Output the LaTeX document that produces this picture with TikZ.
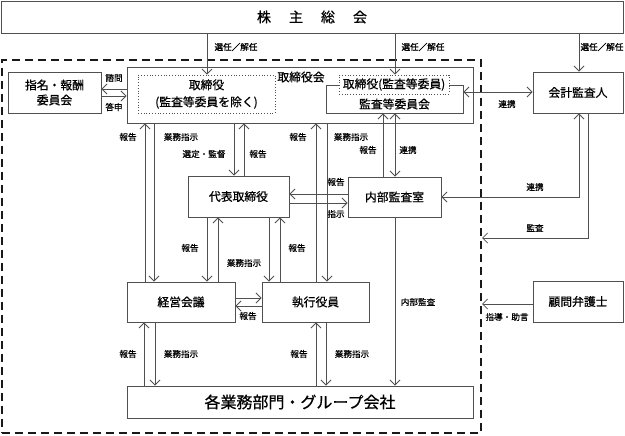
\documentclass[tikz,border=0pt]{standalone}
\usepackage{fontspec}
\setmainfont{Noto Sans CJK JP}[FakeBold=0.7]
\usetikzlibrary{arrows.meta}
\definecolor{lncol}{HTML}{505050}
\begin{document}
\begin{tikzpicture}[x=1pt,y=-1pt,
  box/.style={draw=lncol, line width=0.9pt, rectangle, inner sep=0pt, align=center,
    font=\fontsize{11.8}{15}\selectfont},
  dotbox/.style={draw=lncol, dotted, line width=0.8pt, rectangle, inner sep=0pt, fill=white, align=center,
    font=\fontsize{11.8}{17}\selectfont},
  lbl/.style={font=\fontsize{8.6}{9}\selectfont, inner sep=0pt},
  arr/.style={draw=lncol, line width=0.8pt, -{Straight Barb[length=5pt,width=10pt]}},
  darr/.style={draw=lncol, line width=0.8pt, {Straight Barb[length=5pt,width=10pt]}-{Straight Barb[length=5pt,width=10pt]}}
]
\useasboundingbox (0,0) rectangle (625,436);

% group (dashed)
\node[draw=black!90, line width=2pt, dash pattern=on 8pt off 5pt, rectangle, inner sep=0pt,
  minimum width=479pt, minimum height=373pt] (grp) at (241.5,246.5) {};

% boxes
\node[box, minimum width=622pt, minimum height=32pt, font=\fontsize{14}{16}\selectfont] (gm) at (312,17)
  {株\hspace{18pt}主\hspace{18pt}総\hspace{18pt}会};
\node[box, minimum width=346pt, minimum height=56pt] (bod) at (300,95) {};
\node[dotbox, minimum width=137pt, minimum height=38pt] (dir) at (206.5,94) {取締役\\(監査等委員を除く)};
\node[inner sep=0pt, font=\fontsize{11.8}{13}\selectfont] (bodl) at (301,77) {取締役会};
\node[box, minimum width=137pt, minimum height=28pt] (ac) at (394.5,99) {};
\node[inner sep=0pt, font=\fontsize{11.8}{13}\selectfont] (acl) at (394.5,104) {監査等委員会};
\node[dotbox, minimum width=110pt, minimum height=19pt, font=\fontsize{11.8}{13}\selectfont] (acd) at (394,84.5) {取締役(監査等委員)};
\node[box, minimum width=93pt, minimum height=41pt] (nom) at (54.5,92.5) {指名・報酬\\委員会};
\node[box, minimum width=101pt, minimum height=41pt] (rep) at (238.5,196.5) {代表取締役};
\node[box, minimum width=93pt, minimum height=40pt] (ia) at (394.5,197) {内部監査室};
\node[box, minimum width=108pt, minimum height=40pt] (mc) at (181,302) {経営会議};
\node[box, minimum width=107pt, minimum height=40pt] (eo) at (315.5,302) {執行役員};
\node[box, minimum width=346pt, minimum height=32pt, font=\fontsize{16}{18}\selectfont] (dep) at (300,402) {各業務部門・グループ会社};
\node[box, minimum width=90pt, minimum height=41pt] (aud) at (578,92.5) {会計監査人};
\node[box, minimum width=90pt, minimum height=41pt] (law) at (578,301.5) {顧問弁護士};

% helper coordinates
\coordinate (c144) at (144,0); \coordinate (c145) at (145,0);
\coordinate (c154) at (154,0); \coordinate (c155) at (155,0);
\coordinate (c207) at (207,0); \coordinate (c218) at (218,0);
\coordinate (c234) at (234,0); \coordinate (c244) at (244,0);
\coordinate (c269) at (269,0); \coordinate (c280) at (280,0);
\coordinate (c316) at (316,0); \coordinate (c326) at (326,0);
\coordinate (c327) at (327,0); \coordinate (c383) at (383,0);
\coordinate (c395) at (395,0); \coordinate (c579) at (579,0);
\coordinate (c588) at (588,0);
\coordinate (r89) at (0,89); \coordinate (r96) at (0,96);
\coordinate (r92) at (0,92); \coordinate (r194) at (0,194);
\coordinate (r197) at (0,197); \coordinate (r203) at (0,203);
\coordinate (r238) at (0,238); \coordinate (r298) at (0,298);
\coordinate (r304) at (0,304); \coordinate (r306) at (0,306);

% connectors
\draw[arr] (gm.south -| c207) -- (dir.north -| c207);
\draw[arr] (gm.south -| c395) -- (acd.north -| c395);
\draw[arr] (gm.south -| c579) -- (aud.north -| c579);
\draw[arr] (bod.west |- r89) -- (nom.east |- r89);
\draw[arr] (nom.east |- r96) -- (bod.west |- r96);
\draw[darr] (ac.east |- r92) -- (aud.west |- r92);
\draw[arr] (mc.north -| c145) -- (bod.south -| c145);
\draw[arr] (bod.south -| c154) -- (mc.north -| c154);
\draw[arr] (bod.south -| c234) -- (rep.north -| c234);
\draw[arr] (rep.north -| c244) -- (bod.south -| c244);
\draw[arr] (eo.north -| c316) -- (bod.south -| c316);
\draw[arr] (bod.south -| c327) -- (eo.north -| c327);
\draw[arr] (ia.north -| c383) -- (ac.south -| c383);
\draw[darr] (ac.south -| c395) -- (ia.north -| c395);
\draw[arr] (ia.west |- r194) -- (rep.east |- r194);
\draw[arr] (rep.east |- r203) -- (ia.west |- r203);
\draw[darr] (ia.east |- r197) -| (aud.south -| c579);
\draw[arr] (aud.south -| c588) |- (grp.east |- r238);
\draw[arr] (law.west |- r304) -- (grp.east |- r304);
\draw[arr] (rep.south -| c207) -- (mc.north -| c207);
\draw[arr] (mc.north -| c218) -- (rep.south -| c218);
\draw[arr] (rep.south -| c269) -- (eo.north -| c269);
\draw[arr] (eo.north -| c280) -- (rep.south -| c280);
\draw[arr] (mc.east |- r298) -- (eo.west |- r298);
\draw[arr] (eo.west |- r306) -- (mc.east |- r306);
\draw[arr] (dep.north -| c144) -- (mc.south -| c144);
\draw[arr] (mc.south -| c155) -- (dep.north -| c155);
\draw[arr] (dep.north -| c316) -- (eo.south -| c316);
\draw[arr] (eo.south -| c326) -- (dep.north -| c326);
\draw[arr] (ia.south -| c395) -- (dep.north -| c395);

% labels
\node[lbl] (l1) at (236,47) {選任／解任};
\node[lbl] (l2) at (423,47) {選任／解任};
\node[lbl] (l3) at (602,47) {選任／解任};
\node[lbl] (l4) at (114,78) {諮問};
\node[lbl] (l5) at (114,107) {答申};
\node[lbl] (l6) at (507,104) {連携};
\node[lbl] (l7) at (128,137) {報告};
\node[lbl] (l8) at (181,137) {業務指示};
\node[lbl] (l9) at (204,154) {選定・監督};
\node[lbl] (l10) at (258,154) {報告};
\node[lbl] (l11) at (298,137) {報告};
\node[lbl] (l12) at (351,137) {業務指示};
\node[lbl] (l13) at (368,150) {報告};
\node[lbl] (l14) at (408,150) {連携};
\node[lbl] (l15) at (336,182) {報告};
\node[lbl] (l16) at (336,214) {指示};
\node[lbl] (l17) at (535,187) {連携};
\node[lbl] (l18) at (535,228) {監査};
\node[lbl] (l19) at (190,248) {報告};
\node[lbl] (l20) at (244,263) {業務指示};
\node[lbl] (l21) at (297,248) {報告};
\node[lbl] (l22) at (248,316) {報告};
\node[lbl] (l23) at (418,302) {内部監査};
\node[lbl] (l24) at (507,317) {指導・助言};
\node[lbl] (l25) at (128,354) {報告};
\node[lbl] (l26) at (181,354) {業務指示};
\node[lbl] (l27) at (299,354) {報告};
\node[lbl] (l28) at (352,354) {業務指示};
\end{tikzpicture}
\end{document}
